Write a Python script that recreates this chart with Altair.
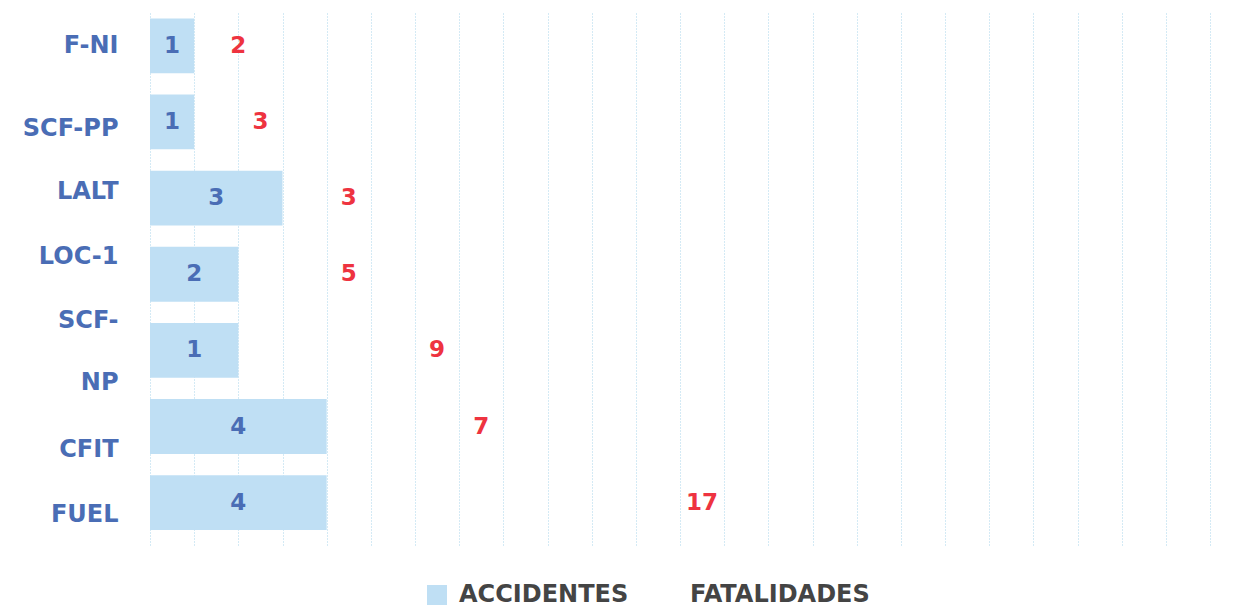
import altair as alt
import pandas as pd

categories = ["F-NI", "SCF-PP", "LALT", "LOC-1", "SCF-NP", "CFIT", "FUEL"]
accidents_bar = [1, 1, 3, 2, 2, 4, 4]
accidents_label = ["1", "1", "3", "2", "1", "4", "4"]
fatalities = [2, 3, 3, 5, 9, 7, 17]
series = ["ACCIDENTES", "FATALIDADES"]
grid_values = list(range(0, 25))

df = pd.DataFrame({
    "cat": categories,
    "acc": accidents_bar,
    "acc_label": accidents_label,
    "fat": fatalities,
    "serie": "ACCIDENTES",
})

FONT = "DejaVu Sans"
BLUE_TXT = "#4a6db5"
RED_TXT = "#ee3340"

y_scale = alt.Scale(paddingInner=0.28, paddingOuter=0.14, align=0.3)
x_scale = alt.Scale(domain=[0, 24], nice=False, zero=True)

label_offset = {
    "condition": [
        {"test": "datum.value == 'SCF-PP'", "value": 7},
        {"test": "datum.value == 'LALT'", "value": -6},
        {"test": "datum.value == 'LOC-1'", "value": -17},
        {"test": "datum.value == 'SCF-NP'", "value": -29},
        {"test": "datum.value == 'CFIT'", "value": 23},
        {"test": "datum.value == 'FUEL'", "value": 12},
    ],
    "value": 0,
}

y_axis = alt.Axis(
    domain=False, ticks=False, grid=False, labelPadding=32,
    labelFont=FONT, labelFontWeight="bold", labelFontSize=24, labelColor=BLUE_TXT,
    labelExpr="datum.label == 'SCF-NP' ? ['SCF-', 'NP'] : datum.label",
    labelLineHeight=62, labelOffset=label_offset,
)
x_axis = alt.Axis(values=grid_values, labels=False, ticks=False, domain=False,
                  grid=True, gridColor="#a8d4ea", gridDash=[1, 2], gridWidth=1)

bars = alt.Chart(df).mark_bar().encode(
    x=alt.X("acc:Q", scale=x_scale, title=None, axis=x_axis),
    y=alt.Y("cat:N", sort=categories, title=None, scale=y_scale, axis=y_axis),
    color=alt.Color("serie:N", scale=alt.Scale(domain=series, range=["#bfdff4", "#ffffff"]),
                    legend=alt.Legend(title=None, orient="none", legendX=275, legendY=571,
                                      direction="horizontal", symbolType="square", symbolSize=400,
                                      symbolStrokeWidth=0, labelFont=FONT, labelFontWeight="bold",
                                      labelFontSize=24, labelColor="#444444", columnPadding=27,
                                      labelOffset=10, labelLimit=400)),
)

acc_text = alt.Chart(df).transform_calculate(mid="datum.acc / 2").mark_text(
    font=FONT, fontWeight="bold", fontSize=23, color=BLUE_TXT, baseline="middle", align="center"
).encode(
    x=alt.X("mid:Q", scale=x_scale, title=None, axis=x_axis),
    y=alt.Y("cat:N", sort=categories, scale=y_scale, title=None, axis=y_axis),
    text="acc_label:N",
)

fat_text = alt.Chart(df).transform_calculate(pos="datum.acc + datum.fat / 2").mark_text(
    font=FONT, fontWeight="bold", fontSize=23, color=RED_TXT, baseline="middle", align="center"
).encode(
    x=alt.X("pos:Q", scale=x_scale, title=None, axis=x_axis),
    y=alt.Y("cat:N", sort=categories, scale=y_scale, title=None, axis=y_axis),
    text="fat:Q",
)

chart = alt.layer(bars, acc_text, fat_text).properties(
    width=1060, height=533,
    autosize=alt.AutoSizeParams(type="none"),
    padding={"left": 142, "top": 4, "right": 20, "bottom": 70},
).configure_view(stroke=None)

chart.save("out.html", embed_options={"renderer": "svg", "actions": False})
